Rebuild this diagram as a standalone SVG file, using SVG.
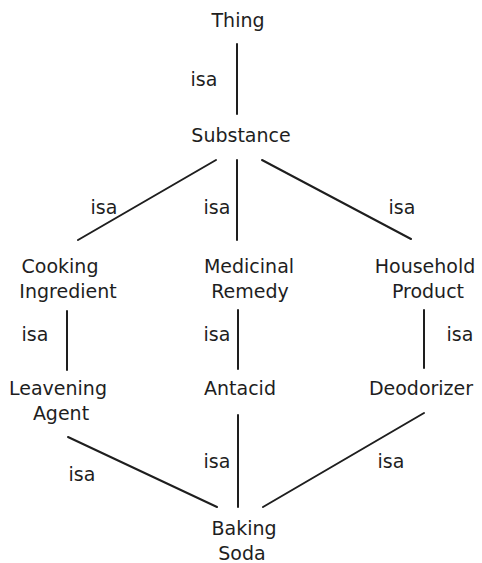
<svg xmlns="http://www.w3.org/2000/svg" width="482" height="563" viewBox="0 0 482 563">
  <style>
    text { font-family: "DejaVu Sans", "Liberation Sans", sans-serif; font-size: 19px; fill: #1e1e1e; }
    .node { text-anchor: middle; }
    .lbl { text-anchor: middle; }
    .edge { stroke: #1e1e1e; stroke-width: 2; fill: none; stroke-linecap: round; }
  </style>
  <rect width="482" height="563" fill="#ffffff"/>

  <!-- isa links -->
  <g id="connectors">
    <line class="edge" x1="237" y1="44" x2="237" y2="114"/>
    <line class="edge" x1="216" y1="160" x2="78" y2="240"/>
    <line class="edge" x1="237" y1="160" x2="237" y2="240"/>
    <line class="edge" x1="262" y1="160" x2="411" y2="239"/>
    <line class="edge" x1="67" y1="311" x2="67" y2="370"/>
    <line class="edge" x1="238" y1="310" x2="238" y2="369"/>
    <line class="edge" x1="424" y1="310" x2="424" y2="368"/>
    <line class="edge" x1="68" y1="437" x2="217" y2="507"/>
    <line class="edge" x1="238" y1="415" x2="238" y2="507"/>
    <line class="edge" x1="424" y1="413" x2="263" y2="507"/>
  </g>

  <g id="link-labels">
    <text class="lbl" x="204" y="86">isa</text>
    <text class="lbl" x="104" y="214">isa</text>
    <text class="lbl" x="217" y="214">isa</text>
    <text class="lbl" x="402" y="214">isa</text>
    <text class="lbl" x="35" y="341">isa</text>
    <text class="lbl" x="217" y="341">isa</text>
    <text class="lbl" x="460" y="341">isa</text>
    <text class="lbl" x="82" y="481">isa</text>
    <text class="lbl" x="217" y="468">isa</text>
    <text class="lbl" x="391" y="468">isa</text>
  </g>

  <g id="thing"><text class="node" x="238" y="27">Thing</text></g>
  <g id="substance"><text class="node" x="241" y="142">Substance</text></g>
  <g id="cooking-ingredient">
    <text class="node" x="60" y="273">Cooking</text>
    <text class="node" x="68" y="298">Ingredient</text>
  </g>
  <g id="medicinal-remedy">
    <text class="node" x="249" y="273">Medicinal</text>
    <text class="node" x="250" y="298">Remedy</text>
  </g>
  <g id="household-product">
    <text class="node" x="425" y="273">Household</text>
    <text class="node" x="428" y="298">Product</text>
  </g>
  <g id="leavening-agent">
    <text class="node" x="58" y="395">Leavening</text>
    <text class="node" x="61" y="420">Agent</text>
  </g>
  <g id="antacid"><text class="node" x="240" y="395">Antacid</text></g>
  <g id="deodorizer"><text class="node" x="421" y="395">Deodorizer</text></g>
  <g id="baking-soda">
    <text class="node" x="244" y="535">Baking</text>
    <text class="node" x="242" y="560">Soda</text>
  </g>
</svg>
